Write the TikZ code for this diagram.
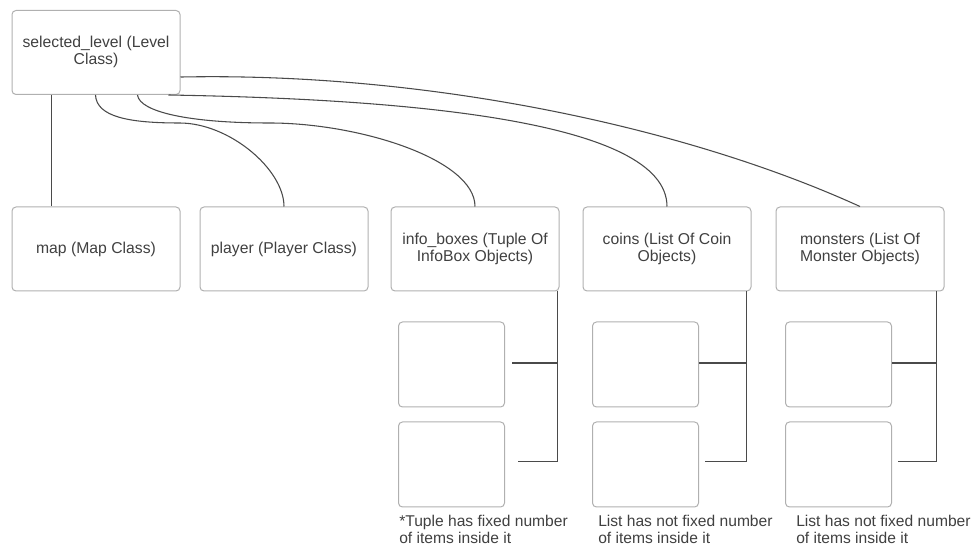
\documentclass[tikz,border=0pt]{standalone}
\usepackage{fontspec}
\setmainfont{Liberation Sans}

\definecolor{boxline}{HTML}{B0B0B0}
\definecolor{wire}{HTML}{4A4A4A}
\definecolor{txt}{HTML}{404040}

\begin{document}
\begin{tikzpicture}[
    x=0.75pt,
    y=-0.75pt,
    clsbox/.style={
        draw=boxline,
        line width=0.75pt,
        rounded corners=3pt,
        minimum width=126pt,
        minimum height=63pt,
        align=center,
        text=txt,
        font=\fontsize{11.8}{12.8}\selectfont
    },
    itembox/.style={
        clsbox,
        minimum width=79.5pt,
        minimum height=63.75pt
    },
    link/.style={
        draw=wire,
        line width=0.8pt
    },
    note/.style={
        anchor=north west,
        align=left,
        inner sep=0pt,
        text=txt,
        font=\fontsize{11.7}{12.8}\selectfont
    }
]
\useasboundingbox (0,0) rectangle (971,548);

% level object
\node[clsbox] (lvl) at (96,52.5) {\raisebox{-2pt}{\begin{tabular}{@{}c@{}}selected\_level (Level\\Class)\end{tabular}}};

% members of the level
\node[clsbox] (map) at (96,249) {\raisebox{-2pt}{map (Map Class)}};
\node[clsbox] (player) at (284,249) {\raisebox{-2pt}{player (Player Class)}};
\node[clsbox] (infoboxes) at (475,249) {info\_boxes (Tuple Of\\InfoBox Objects)};
\node[clsbox] (coins) at (667,249) {coins (List Of Coin\\Objects)};
\node[clsbox] (monsters) at (860,249) {monsters (List Of\\Monster Objects)};

% items of the collections
\node[itembox] (ib1) at (451.5,364.5) {};
\node[itembox] (ib2) at (451.5,464.5) {};
\node[itembox] (cn1) at (645.5,364.5) {};
\node[itembox] (cn2) at (645.5,464.5) {};
\node[itembox] (ms1) at (838.5,364.5) {};
\node[itembox] (ms2) at (838.5,464.5) {};

% notes
\node[note] (ibnote) at (399,515) {*Tuple has fixed number\\of items inside it};
\node[note] (cnnote) at (598,515) {List has not fixed number\\of items inside it};
\node[note] (msnote) at (796,515) {List has not fixed number\\of items inside it};

% level to members
\draw[link] ([xshift=30pt]lvl.south west) -- ([xshift=30pt]map.north west);
\draw[link] ([xshift=63pt]lvl.south west)
    .. controls +(1,22) and +(-50,0) .. ++(84,28)
    .. controls +(50,0) and +(0,-37) .. (player.north);
\draw[link] ([xshift=94.5pt]lvl.south west)
    .. controls +(2,17) and +(-80,0) .. ++(132,28)
    .. controls +(90,0) and +(0,-47) .. (infoboxes.north);
\draw[link] ([xshift=-9pt]lvl.south east)
    .. controls +(232,4) and +(0,-87) .. (coins.north);
\draw[link] ([yshift=-18.4pt]lvl.east)
    .. controls +(240,-5) and +(-180,-82) .. (monsters.north);

% collections to items
\coordinate (ibt) at ([xshift=-1.5pt]infoboxes.south east);
\draw[link] (ibt) |- ([xshift=10pt,yshift=1.9pt]ib2.east);
\draw[link] ([xshift=5.6pt,yshift=1.1pt]ib1.east) -| (ibt);

\coordinate (cnt) at ([xshift=-3.75pt]coins.south east);
\draw[link] (cnt) |- ([xshift=4.5pt,yshift=1.9pt]cn2.east);
\draw[link] ([yshift=1.1pt]cn1.east) -| (cnt);

\coordinate (mst) at ([xshift=-6pt]monsters.south east);
\draw[link] (mst) |- ([xshift=4.5pt,yshift=1.9pt]ms2.east);
\draw[link] ([yshift=1.1pt]ms1.east) -| (mst);

\end{tikzpicture}
\end{document}
